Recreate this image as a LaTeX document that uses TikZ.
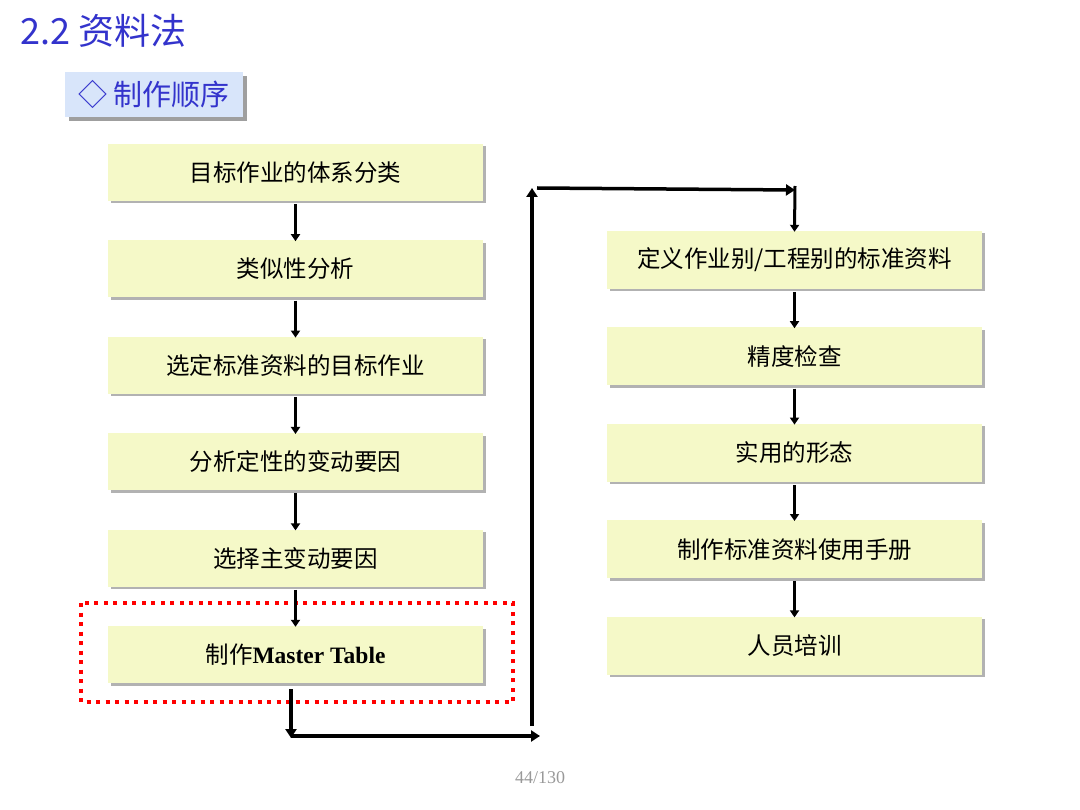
\documentclass[tikz,border=0pt]{standalone}
\usepackage{fontspec}
\setmainfont{Liberation Serif}
\newfontfamily\cjk{Noto Sans CJK SC}
\usetikzlibrary{arrows.meta, positioning, shadows}
\definecolor{stepfill}{RGB}{245,249,200}
\definecolor{titleblue}{RGB}{51,51,204}
\definecolor{subfill}{RGB}{216,229,250}

\begin{document}
\begin{tikzpicture}[
	x=1pt, y=-1pt,
	node distance=39pt,
	every node/.style={inner sep=0pt},
	stepbox/.style={rectangle, fill=stepfill, minimum width=375pt, minimum height=57pt, align=center,
		font=\fontsize{23.5}{26}\selectfont\cjk, text=black,
		drop shadow={shadow xshift=2.5pt, shadow yshift=-2.5pt, fill=gray!60, opacity=1}},
	arrow/.style={-{Triangle[length=7pt, width=9pt]}, line width=3pt},
	link/.style={-{Triangle[length=9pt, width=11pt]}, line width=3.5pt}
]
\useasboundingbox (0,0) rectangle (1080,810);

% Title and heading
\node[anchor=west, text=titleblue, font=\fontsize{36}{40}\selectfont\cjk] (title) at (20,31) {2.2 资料法};
\node[anchor=north west, fill=subfill, minimum width=178pt, minimum height=45pt,
	text=titleblue, font=\fontsize{29}{32}\selectfont\cjk,
	drop shadow={shadow xshift=3.5pt, shadow yshift=-3.5pt, fill=gray!75, opacity=1}] (sub) at (65,72) {◇ 制作顺序};

% Left column
\node[stepbox] (m1) at (295.5,172.5) {目标作业的体系分类};
\node[stepbox, below=of m1] (m2) {类似性分析};
\node[stepbox, below=of m2] (m3) {选定标准资料的目标作业};
\node[stepbox, below=of m3] (m4) {分析定性的变动要因};
\node[stepbox, below=of m4] (m5) {选择主变动要因};
\node[stepbox, below=of m5] (m6) {制作{\rmfamily\bfseries Master Table}};

% Right column
\node[stepbox, minimum height=58pt] (r1) at (794.5,260) {定义作业别/工程别的标准资料};
\node[stepbox, minimum height=58pt, below=38pt of r1] (r2) {精度检查};
\node[stepbox, minimum height=58pt, below=38pt of r2] (r3) {实用的形态};
\node[stepbox, minimum height=58pt, below=38pt of r3] (r4) {制作标准资料使用手册};
\node[stepbox, minimum height=58pt, below=38pt of r4] (r5) {人员培训};

% Highlight of Master Table step
\draw[red, line width=4pt, dash pattern=on 4pt off 5.5pt] (81,603) rectangle (513,702);

% Arrows inside the columns
\foreach \a/\b in {m1/m2, m2/m3, m3/m4, m4/m5, m5/m6, r1/r2, r2/r3, r3/r4, r4/r5}
	\draw[arrow] ([yshift=-3pt]\a.south) -- ([yshift=-1pt]\b.north);

% Link from left column to right column
\coordinate (c1) at (291,736);
\coordinate (c2) at (532,736);
\coordinate (c3) at (532,188);
\coordinate (c4) at (795,190);
\draw[link] ([xshift=-4.5pt, yshift=-6pt]m6.south) -- ([yshift=-2pt]c1);
\draw[link, shorten >=-8pt] (c1) -- (c2);
\draw[link] ([yshift=10pt]c2) -- (c3);
\draw[link] ([xshift=5pt]c3) -- (c4);
\draw[arrow] ([yshift=4pt]c4) -- ([yshift=-1pt]r1.north);

% Page number
\node[text=gray!80, font=\fontsize{18}{20}\selectfont] (page) at (540,778) {44/130};
\end{tikzpicture}
\end{document}
